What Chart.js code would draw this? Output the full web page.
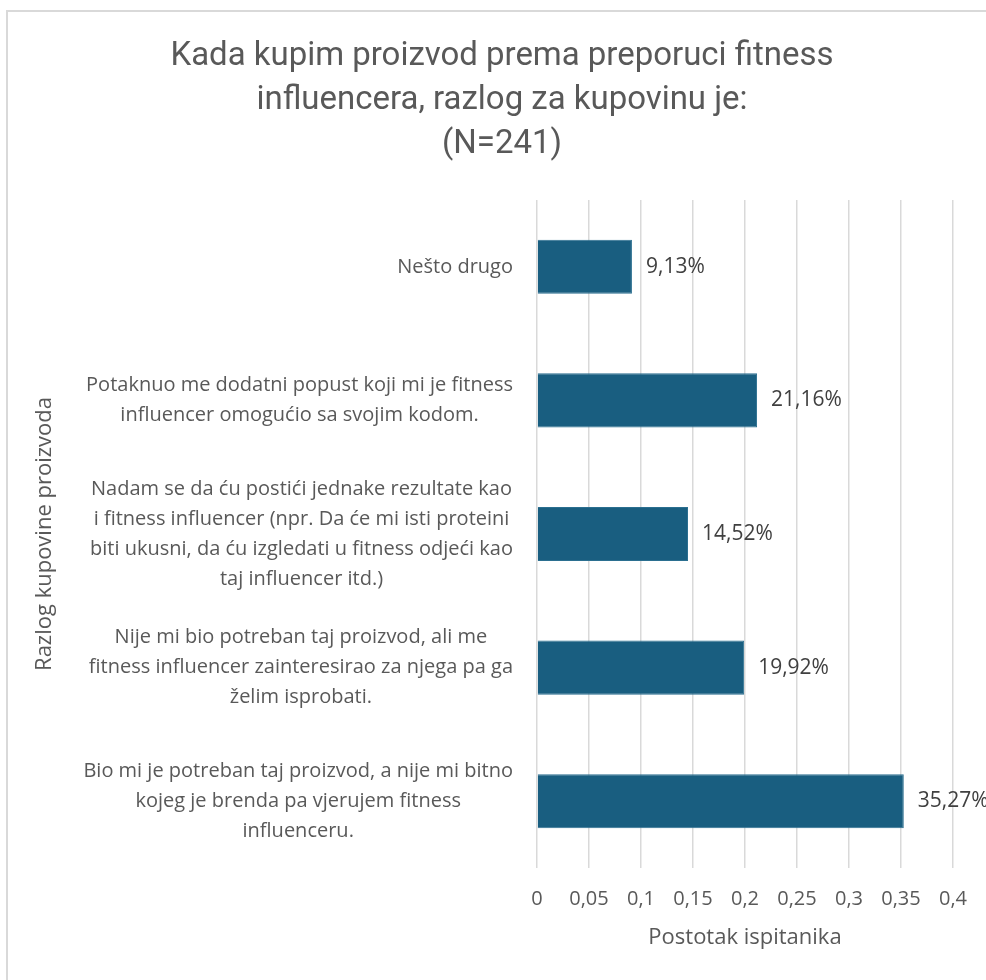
<!DOCTYPE html>
<html>
<head>
<meta charset="utf-8">
<script src="https://cdn.jsdelivr.net/npm/chart.js@4.4.1/dist/chart.umd.min.js"></script>
<style>
  html, body { margin: 0; padding: 0; background: #ffffff; }
  #wrap { width: 986px; height: 980px; position: relative; }
</style>
</head>
<body>
<div id="wrap"><canvas id="c" width="986" height="980"></canvas></div>
<script>
// Survey answers (top to bottom), one array of lines per answer
const categories = [
  ["Nešto drugo"],
  ["Potaknuo me dodatni popust koji mi je fitness", "influencer omogućio sa svojim kodom."],
  ["Nadam se da ću postići jednake rezultate kao", "i fitness influencer (npr. Da će mi isti proteini", "biti ukusni, da ću izgledati u fitness odjeći kao", "taj influencer itd.)"],
  ["Nije mi bio potreban taj proizvod, ali me", "fitness influencer zainteresirao za njega pa ga", "želim isprobati."],
  ["Bio mi je potreban taj proizvod, a nije mi bitno", "kojeg je brenda pa vjerujem fitness", "influenceru."]
];
// Share of respondents
const shares = [0.0913, 0.2116, 0.1452, 0.1992, 0.3527];
const shareLabels = ["9,13%", "21,16%", "14,52%", "19,92%", "35,27%"];
const tickLabels = ["0", "0,05", "0,1", "0,15", "0,2", "0,25", "0,3", "0,35", "0,4"];
const titleLines = ["Kada kupim proizvod prema preporuci fitness", "influencera, razlog za kupovinu je:", "(N=241)"];

const TEXT = "#595959";
const BODY_FONT = "'Open Sans', 'Noto Sans', sans-serif";
const TITLE_FONT = "Roboto, 'Open Sans', sans-serif";

// Light frame around the chart
const framePlugin = {
  id: "frame",
  beforeDraw(chart) {
    const ctx = chart.ctx;
    ctx.save();
    ctx.fillStyle = "#ffffff";
    ctx.fillRect(0, 0, chart.width, chart.height);
    ctx.strokeStyle = "#d9d9d9";
    ctx.lineWidth = 2;
    ctx.beginPath();
    ctx.moveTo(7, chart.height);
    ctx.lineTo(7, 11);
    ctx.lineTo(chart.width, 11);
    ctx.stroke();
    ctx.restore();
  }
};

// Three-line chart heading in a condensed face
const headingPlugin = {
  id: "heading",
  afterDraw(chart) {
    const ctx = chart.ctx;
    ctx.save();
    ctx.fillStyle = TEXT;
    ctx.font = "33px " + TITLE_FONT;
    ctx.textAlign = "center";
    ctx.textBaseline = "middle";
    const squeeze = 663 / ctx.measureText(titleLines[0]).width;
    ctx.translate(502, 0);
    ctx.scale(squeeze, 1);
    titleLines.forEach((t, i) => ctx.fillText(t, 0, 57 + i * 44));
    ctx.restore();
  }
};

// Multi-line answer labels, each block centred on itself and right-aligned as a block
const answerLabels = {
  id: "answerLabels",
  afterDraw(chart) {
    const ctx = chart.ctx;
    const y = chart.scales.y;
    const right = chart.chartArea.left - 24;
    const lh = 30;
    ctx.save();
    ctx.fillStyle = TEXT;
    ctx.font = "20px " + BODY_FONT;
    ctx.textAlign = "center";
    ctx.textBaseline = "middle";
    categories.forEach((lines, i) => {
      const w = Math.max(...lines.map(l => ctx.measureText(l).width));
      const cx = right - w / 2;
      const cy = y.getPixelForValue(i);
      const top = cy - (lines.length - 1) * lh / 2;
      lines.forEach((l, k) => ctx.fillText(l, cx, top + k * lh));
    });
    ctx.restore();
  }
};

// Value labels at the end of each bar
const valueLabels = {
  id: "valueLabels",
  afterDatasetsDraw(chart) {
    const ctx = chart.ctx;
    const meta = chart.getDatasetMeta(0);
    ctx.save();
    ctx.fillStyle = "#404040";
    ctx.font = "21px " + BODY_FONT;
    ctx.textAlign = "left";
    ctx.textBaseline = "middle";
    meta.data.forEach((bar, i) => {
      ctx.fillText(shareLabels[i], bar.x + 14, bar.y);
    });
    ctx.restore();
  }
};

new Chart(document.getElementById("c"), {
  type: "bar",
  data: {
    labels: categories.map(l => l.join(" ")),
    datasets: [{
      data: shares,
      backgroundColor: "#195e80",
      borderColor: "#2b6f90",
      borderWidth: 1,
      categoryPercentage: 1,
      barPercentage: 0.405
    }]
  },
  options: {
    indexAxis: "y",
    responsive: false,
    animation: false,
    devicePixelRatio: 1,
    layout: { padding: { top: 200, right: 33, bottom: 0, left: 0 } },
    plugins: {
      legend: { display: false },
      tooltip: { enabled: false },
      title: { display: false }
    },
    scales: {
      x: {
        min: 0,
        max: 0.4,
        ticks: {
          stepSize: 0.05,
          color: TEXT,
          font: { family: BODY_FONT, size: 20 },
          padding: 19,
          callback: (v, i) => tickLabels[i]
        },
        grid: { color: "#d9d9d9", lineWidth: 1.5, drawTicks: false },
        border: { display: false },
        title: {
          display: true,
          text: "Postotak ispitanika",
          color: TEXT,
          font: { family: BODY_FONT, size: 22 },
          padding: { top: 0, bottom: 29 }
        },
        afterFit: s => { s.height = 112; }
      },
      y: {
        ticks: { display: false },
        grid: { display: false },
        border: { display: false },
        title: {
          display: true,
          text: "Razlog kupovine proizvoda",
          color: TEXT,
          font: { family: BODY_FONT, size: 22 },
          padding: { top: 32, bottom: 0 }
        },
        afterFit: s => { s.width = 537; }
      }
    }
  },
  plugins: [framePlugin, headingPlugin, answerLabels, valueLabels]
});
</script>
</body>
</html>
